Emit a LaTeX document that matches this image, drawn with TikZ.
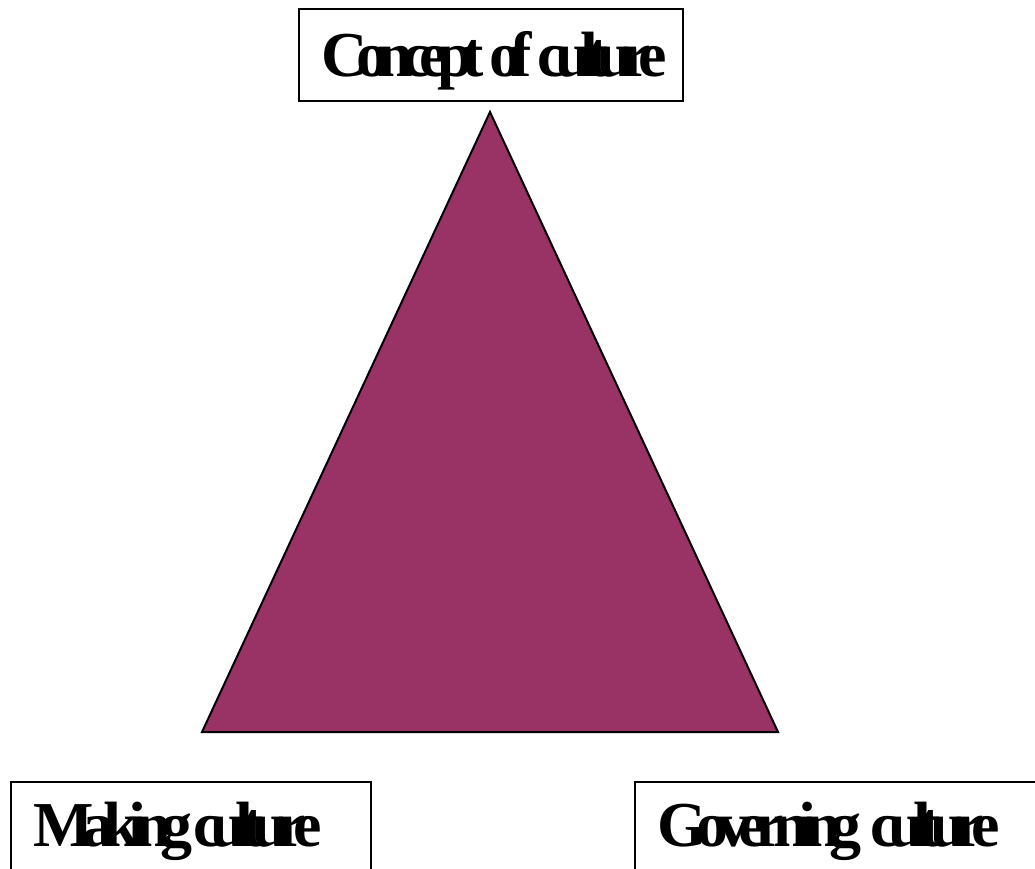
\documentclass[tikz,border=0pt]{standalone}
\usepackage{fontspec}
\setmainfont{Liberation Serif}
\newfontfamily\tightbf[LetterSpace=-17]{Liberation Serif Bold}

\definecolor{plum}{RGB}{153,51,102}
% narrow gap between words
\newcommand\wgap[1][1pt]{\hspace{#1}}

\tikzset{
  labelbox/.style={draw, line width=2.4pt, anchor=north west, inner xsep=22pt,
    inner ysep=0pt, text height=42pt, text depth=0pt, align=left,
    font={\tightbf\fontsize{64}{70}\selectfont}},
  % bottom boxes run off the page
  lowbox/.style={labelbox, text depth=20pt, minimum height=106pt},
}

\begin{document}
\begin{tikzpicture}[x=1pt, y=-1pt]
\useasboundingbox (0,0) rectangle (1035,868);

% the triangle
\coordinate (apex) at (490,112);
\coordinate (left) at (202,732);
\coordinate (right) at (778,732);
\filldraw[fill=plum, line width=2pt, line join=miter] (apex) -- (left) -- (right) -- cycle;

% corner labels
\node[labelbox, text width=340pt, minimum height=92pt] (concept) at (298,8) {\mbox{Concept\wgap[6pt]of\wgap[6pt]culture}};
\node[lowbox, text width=316pt] (making) at (10,781) {\mbox{Making\wgap culture}};
\node[lowbox, text width=380pt] (governing) at (634,781) {\mbox{Governing\wgap[9pt]culture}};
\end{tikzpicture}
\end{document}
